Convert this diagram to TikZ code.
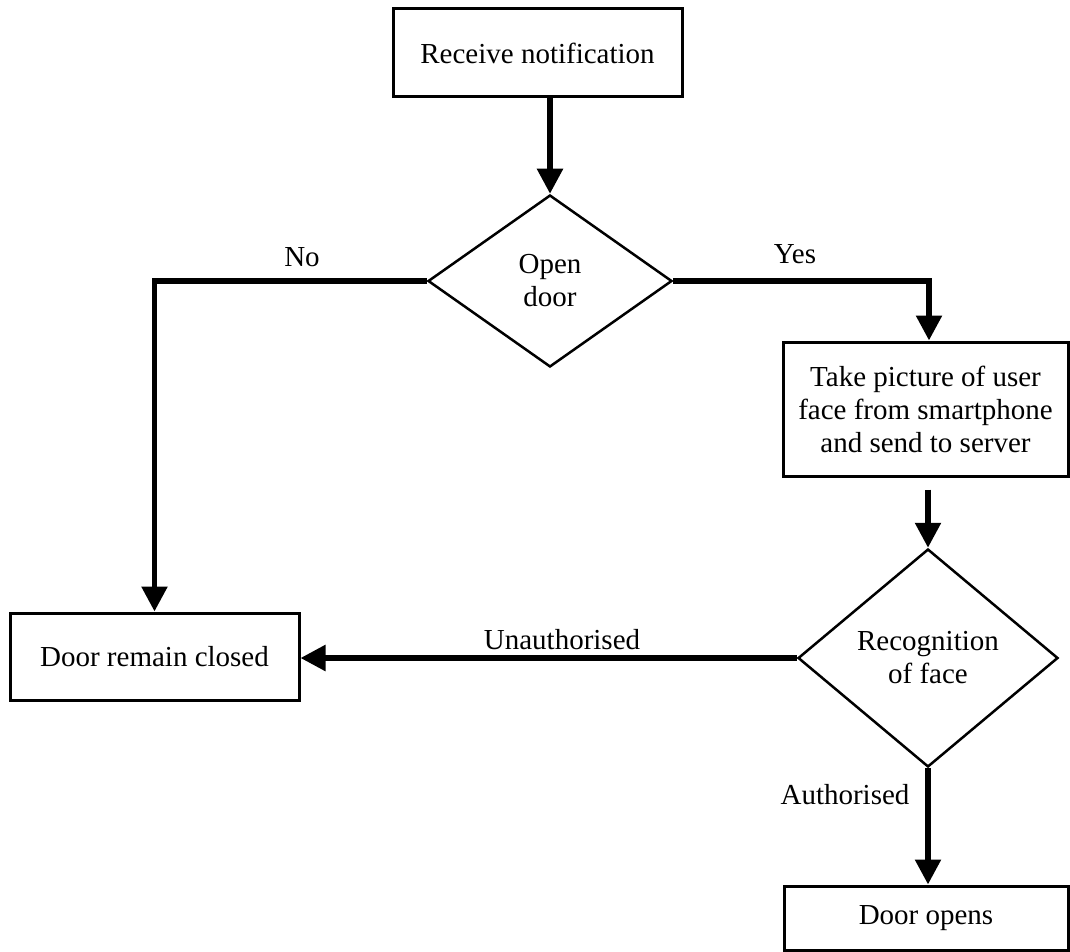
\documentclass[tikz,border=0pt]{standalone}
\usepackage{fontspec}
\setmainfont{Liberation Serif}
\usetikzlibrary{shapes.geometric,arrows.meta}
\begin{document}
\begin{tikzpicture}[x=1pt,y=-1pt,
  every node/.style={font=\fontsize{29pt}{33pt}\selectfont},
  procbox/.style={draw,line width=3pt,rectangle,inner sep=0pt,align=center},
  decision/.style={draw,line width=2.5pt,diamond,inner sep=0pt,align=center},
  flow/.style={line width=5.5pt,-{Triangle[length=25pt,width=25pt]}},
  lbl/.style={inner sep=0pt}]
\useasboundingbox (0,0) rectangle (1070,952);

% process boxes
\node[procbox,minimum width=289pt,minimum height=88pt] (recv) at (537.5,53) {Receive notification};
\node[procbox,minimum width=289pt,minimum height=87pt] (closed) at (154.5,656.5) {Door remain closed};
\node[procbox,minimum width=285pt,minimum height=134pt] (photo) at (925.5,409) {Take picture of user\\face from smartphone\\and send to server};
\node[procbox,minimum width=284pt,minimum height=64pt] (opens) at (926,918) {Door opens};

% decisions
\node[decision,minimum width=244pt,minimum height=172pt] (door) at (550,281) {Open\\door};
\node[decision,minimum width=260pt,minimum height=218pt] (face) at (928,658) {Recognition\\of face};

% connectors
\draw[flow] (door.north |- recv.south) -- (door.north);
\draw[flow] (door.west) -| (closed.north);
\draw[flow] (door.east) -| ([xshift=3.5pt]photo.north);
\draw[flow] ([yshift=-12pt]photo.south -| face.north) -- (face.north);
\draw[flow] (face.west) -- (face.west -| closed.east);
\draw[flow] (face.south) -- (face.south |- opens.north);

% branch labels
\node[lbl] (lno) at (302,257) {No};
\node[lbl] (lyes) at (795,254) {Yes};
\node[lbl] (lunauth) at (562,640) {Unauthorised};
\node[lbl] (lauth) at (845,795) {Authorised};
\end{tikzpicture}
\end{document}
